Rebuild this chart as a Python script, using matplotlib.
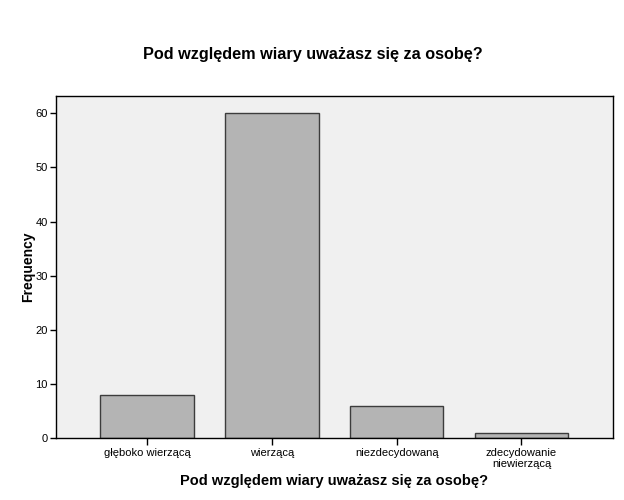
import matplotlib.pyplot as plt

kategorie = ["głęboko wierzącą", "wierzącą", "niezdecydowaną", "zdecydowanie\nniewierzącą"]
czestosci = [8, 60, 6, 1]
yticki = [0, 10, 20, 30, 40, 50, 60]

plt.rcParams['font.family'] = ['Liberation Sans', 'DejaVu Sans']

fig = plt.figure(figsize=(6.24, 5.0), dpi=100)
ax = fig.add_axes([0.0897, 0.124, 0.892, 0.684])
ax.set_facecolor('#f0f0f0')

pozycje = list(range(len(kategorie)))
ax.bar(pozycje, czestosci, width=0.75, color='#b4b4b4', edgecolor='#3c3c3c', linewidth=1.0, zorder=2)

ax.set_xlim(-0.73, 3.73)
ax.set_ylim(0, 63.2)
ax.set_yticks(yticki)
ax.set_xticks(pozycje)
ax.set_xticklabels(kategorie, fontsize=8, linespacing=1.1)
ax.tick_params(axis='y', labelsize=8, length=4, width=1, direction='out', pad=2)
ax.tick_params(axis='x', length=5, width=1, direction='out', pad=2)

for s in ax.spines.values():
    s.set_linewidth(1.0)
    s.set_color('black')

ax.set_ylabel("Frequency", fontsize=10, fontweight='bold', labelpad=0)
ax.set_xlabel("Pod względem wiary uważasz się za osobę?", fontsize=10.5, fontweight='bold', labelpad=4)
fig.text(0.502, 0.89, "Pod względem wiary uważasz się za osobę?", ha='center', va='center',
         fontsize=11.7, fontweight='bold')

fig.savefig("out.png", dpi=100)
